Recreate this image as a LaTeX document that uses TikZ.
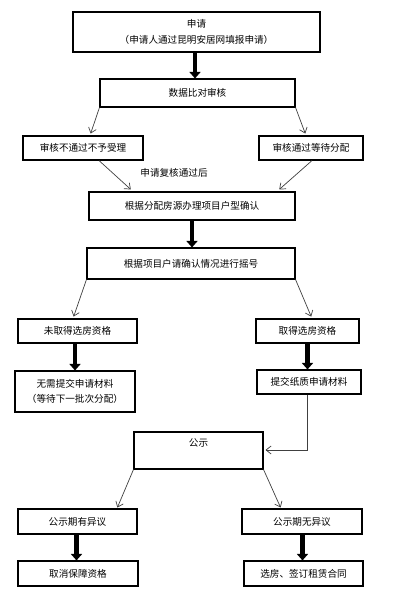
\documentclass[tikz,border=0pt]{standalone}
\usepackage{fontspec}
\newfontfamily\cjk{Noto Sans CJK SC}
\usetikzlibrary{arrows.meta}
\begin{document}
\begin{tikzpicture}[x=1pt,y=-1pt,
  box/.style={draw=black,line width=1.1pt,inner sep=0pt,align=center,
    font=\cjk\fontsize{9.6}{15.5}\selectfont},
  lbl/.style={inner sep=0pt,font=\cjk\fontsize{9.6}{15.5}\selectfont},
  fat/.style={line width=4.6pt,-{Triangle[length=6.5pt,width=11pt]}},
  thin/.style={draw=black!75,line width=0.7pt,-{Straight Barb[length=5pt,width=8pt]}}]
\useasboundingbox[fill=white] (0,0) rectangle (400,589);
% boxes
\node[box,minimum width=247,minimum height=40] (b1) at (196.5,32) {申请\\（申请人通过昆明安居网填报申请）};
\node[box,minimum width=195,minimum height=28] (b2) at (197.5,93) {数据比对审核};
\node[box,minimum width=120,minimum height=24] (b3l) at (83,148) {审核不通过不予受理};
\node[box,minimum width=104,minimum height=24] (b3r) at (311,148) {审核通过等待分配};
\node[lbl] (note) at (174,173) {申请复核通过后};
\node[box,minimum width=206,minimum height=28] (b4) at (192,206) {根据分配房源办理项目户型确认};
\node[box,minimum width=208,minimum height=31] (b5) at (191,263.5) {根据项目户请确认情况进行摇号};
\node[box,minimum width=119,minimum height=24] (b6l) at (77.5,331) {未取得选房资格};
\node[box,minimum width=103,minimum height=24] (b6r) at (307.5,331) {取得选房资格};
\node[box,minimum width=120,minimum height=41] (b7l) at (75,391.5) {无需提交申请材料\\（等待下一批次分配）};
\node[box,minimum width=104,minimum height=24] (b7r) at (309,382) {提交纸质申请材料};
\node[box,minimum width=129,minimum height=37] (b8) at (198.5,450.5) {公示\\~};
\node[box,minimum width=119,minimum height=25] (b9l) at (77.5,521.5) {公示期有异议};
\node[box,minimum width=120,minimum height=25] (b9r) at (302,521.5) {公示期无异议};
\node[box,minimum width=120,minimum height=25] (b10l) at (78,573.5) {取消保障资格};
\node[box,minimum width=119,minimum height=25] (b10r) at (303.5,573.5) {选房、签订租赁合同};
% thick arrows
\draw[fat] (b1.south -| 195,0) -- (b2.north -| 195,0);
\draw[fat] (b4.south -| 192,0) -- (b5.north -| 192,0);
\draw[fat] (b6l.south -| 75,0) -- (b7l.north -| 75,0);
\draw[fat] (b6r.south -| 307.5,0) -- (b7r.north -| 307.5,0);
\draw[fat] (b9l.south -| 76.5,0) -- (b10l.north -| 76.5,0);
\draw[fat] (b9r.south -| 302.5,0) -- (b10r.north -| 302.5,0);
% thin arrows
\draw[thin,shorten >=2pt] (b2.south west) -- (b3l.north -| 90,0);
\draw[thin,shorten >=2pt] (b2.south east) -- (b3r.north -| 306,0);
\draw[thin,shorten >=3pt] (b3l.south -| 99,0) -- (b4.north -| 133,0);
\draw[thin,shorten >=3pt] (b3r.south -| 312,0) -- (b4.north -| 277,0);
\draw[thin,shorten >=2pt] (b5.south west) -- (b6l.north -| 73,0);
\draw[thin,shorten >=2pt] (b5.south east) -- (b6r.north -| 312,0);
\draw[thin,shorten >=2pt] (b7r.south -| 307,0) |- (b8.east |- 0,450);
\draw[thin,shorten >=1pt] (b8.south west) -- (b9l.north -| 117,0);
\draw[thin,shorten >=1pt] (b8.south east) -- (b9r.north -| 281,0);
\end{tikzpicture}
\end{document}
